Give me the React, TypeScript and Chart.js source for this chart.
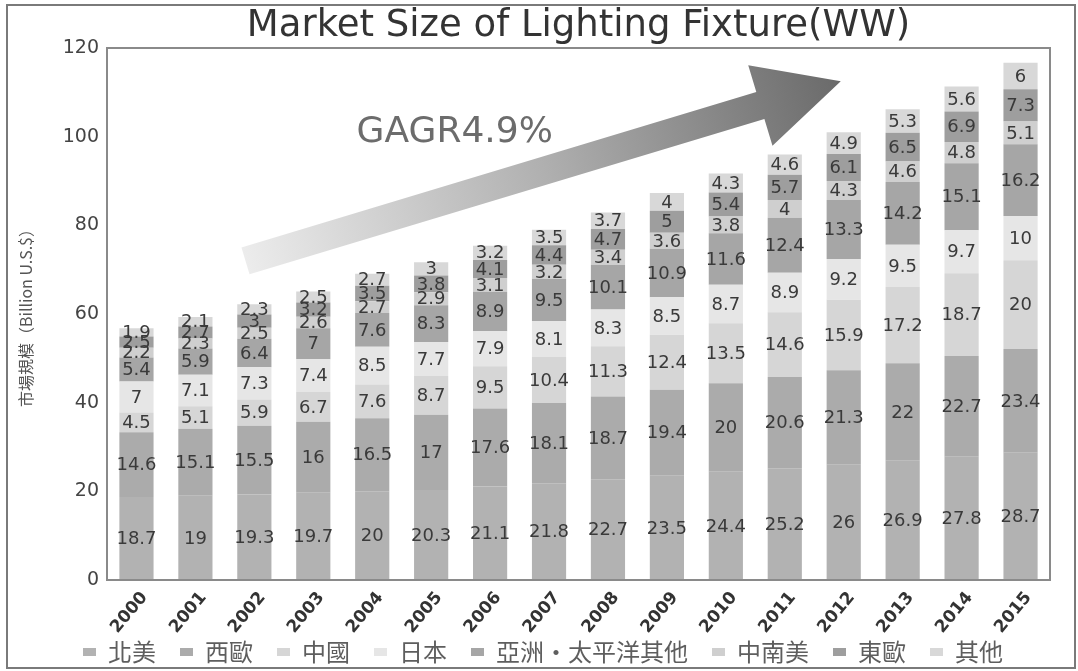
import React, { useEffect, useRef } from "react";
import { Chart, registerables } from "chart.js";

Chart.register(...registerables);

const years = ["2000","2001","2002","2003","2004","2005","2006","2007","2008","2009","2010","2011","2012","2013","2014","2015"];
const seriesNames = ["北美", "西歐", "中國", "日本", "亞洲・太平洋其他", "中南美", "東歐", "其他"];
const northAmerica = [18.7,19,19.3,19.7,20,20.3,21.1,21.8,22.7,23.5,24.4,25.2,26,26.9,27.8,28.7];
const westernEurope = [14.6,15.1,15.5,16,16.5,17,17.6,18.1,18.7,19.4,20,20.6,21.3,22,22.7,23.4];
const china = [4.5,5.1,5.9,6.7,7.6,8.7,9.5,10.4,11.3,12.4,13.5,14.6,15.9,17.2,18.7,20];
const japan = [7,7.1,7.3,7.4,8.5,7.7,7.9,8.1,8.3,8.5,8.7,8.9,9.2,9.5,9.7,10];
const otherAsiaPacific = [5.4,5.9,6.4,7,7.6,8.3,8.9,9.5,10.1,10.9,11.6,12.4,13.3,14.2,15.1,16.2];
const latinAmerica = [2.2,2.3,2.5,2.6,2.7,2.9,3.1,3.2,3.4,3.6,3.8,4,4.3,4.6,4.8,5.1];
const easternEurope = [2.5,2.7,3,3.2,3.5,3.8,4.1,4.4,4.7,5,5.4,5.7,6.1,6.5,6.9,7.3];
const others = [1.9,2.1,2.3,2.5,2.7,3,3.2,3.5,3.7,4,4.3,4.6,4.9,5.3,5.6,6];
const seriesColors = ["#b2b2b2", "#ababab", "#d6d6d6", "#e6e6e6", "#a6a6a6", "#cfcfcf", "#9e9e9e", "#d8d8d8"];
const yTicks = [0, 20, 40, 60, 80, 100, 120];
const titleText = "Market Size of Lighting Fixture(WW)";
const yTitle = "市場規模（Billion U.S.$）";
const growthLabel = "GAGR4.9%";
const arrowFrom = [1.85, 72];
const arrowTo = [11.95, 112.5];
const growthLabelAt = [5.4, 101];

const allSeries = [northAmerica, westernEurope, china, japan, otherAsiaPacific, latinAmerica, easternEurope, others];

const valueLabels = {
  id: "valueLabels",
  afterDatasetsDraw(chart: any) {
    const ctx = chart.ctx;
    ctx.save();
    ctx.font = "18px 'DejaVu Sans'";
    ctx.fillStyle = "#3a3a3a";
    ctx.textAlign = "center";
    ctx.textBaseline = "middle";
    chart.data.datasets.forEach((ds: any, i: number) => {
      const meta = chart.getDatasetMeta(i);
      meta.data.forEach((el: any, j: number) => {
        const p = el.getProps(["x", "y", "base"], true);
        ctx.fillText(String(ds.data[j]), p.x, (p.y + p.base) / 2 + 1);
      });
    });
    ctx.restore();
  },
};

const decorations = {
  id: "decorations",
  beforeDatasetsDraw(chart: any) {
    const ctx = chart.ctx;
    const xs = chart.scales.x;
    const ys = chart.scales.y;
    const x0 = xs.getPixelForValue(arrowFrom[0]);
    const y0 = ys.getPixelForValue(arrowFrom[1]);
    const x1 = xs.getPixelForValue(arrowTo[0]);
    const y1 = ys.getPixelForValue(arrowTo[1]);
    const dx = x1 - x0, dy = y1 - y0;
    const len = Math.hypot(dx, dy);
    const ux = dx / len, uy = dy / len;
    const nx = -uy, ny = ux;
    const hw = 14, headL = 84, headW = 42;
    const bx = x1 - ux * headL, by = y1 - uy * headL;
    ctx.save();
    const g = ctx.createLinearGradient(x0, y0, x1, y1);
    g.addColorStop(0, "#ececec");
    g.addColorStop(0.5, "#b0b0b0");
    g.addColorStop(1, "#6a6a6a");
    ctx.fillStyle = g;
    ctx.beginPath();
    ctx.moveTo(x0 + nx * hw, y0 + ny * hw);
    ctx.lineTo(bx + nx * hw, by + ny * hw);
    ctx.lineTo(bx + nx * headW, by + ny * headW);
    ctx.lineTo(x1, y1);
    ctx.lineTo(bx - nx * headW, by - ny * headW);
    ctx.lineTo(bx - nx * hw, by - ny * hw);
    ctx.lineTo(x0 - nx * hw, y0 - ny * hw);
    ctx.closePath();
    ctx.fill();
    ctx.font = "36px 'DejaVu Sans'";
    ctx.fillStyle = "#6c6c6c";
    ctx.textAlign = "center";
    ctx.textBaseline = "middle";
    ctx.fillText(growthLabel, xs.getPixelForValue(growthLabelAt[0]), ys.getPixelForValue(growthLabelAt[1]));
    ctx.restore();
  },
  afterDraw(chart: any) {
    const ctx = chart.ctx;
    const a = chart.chartArea;
    ctx.save();
    ctx.strokeStyle = "#8a8a8a";
    ctx.lineWidth = 2;
    ctx.strokeRect(a.left, a.top, a.right - a.left, a.bottom - a.top);
    ctx.strokeStyle = "#7a7a7a";
    ctx.strokeRect(7, 5, 1068, 663);
    ctx.restore();
  },
};

export default function App() {
  const ref = useRef<HTMLCanvasElement>(null);
  useEffect(() => {
    const chart = new Chart(ref.current as HTMLCanvasElement, {
      type: "bar",
      data: {
        labels: years,
        datasets: allSeries.map((d, i) => ({
          label: seriesNames[i],
          data: d,
          backgroundColor: seriesColors[i],
          borderWidth: 0,
          barPercentage: 0.58,
          categoryPercentage: 1,
        })),
      },
      options: {
        responsive: false,
        animation: false,
        layout: { padding: { left: 8, right: 0, top: 5, bottom: -3 } },
        plugins: {
          tooltip: { enabled: false },
          title: {
            display: true,
            text: titleText,
            fullSize: false,
            color: "#333",
            font: { family: "'DejaVu Sans'", size: 37, weight: "normal", lineHeight: 1.0 },
            padding: { top: 3, bottom: 3 },
          },
          legend: {
            position: "bottom",
            labels: {
              color: "#5e5e5e",
              font: { family: "'Noto Sans CJK TC'", size: 24 },
              boxWidth: 13,
              boxHeight: 8,
              padding: 24,
            },
          },
        },
        scales: {
          x: {
            stacked: true,
            grid: { display: false, drawTicks: false },
            border: { display: false },
            ticks: {
              color: "#333",
              font: { family: "'DejaVu Sans'", size: 17, weight: "bold" },
              minRotation: 50,
              maxRotation: 50,
              padding: 8,
              labelOffset: 8,
            },
            afterFit: (s: any) => {
              s.height = 36;
              s._computeLabelArea = () => undefined;
            },
          },
          y: {
            stacked: true,
            min: 0,
            max: 120,
            grid: { display: false, drawTicks: false },
            border: { display: false },
            afterBuildTicks: (s: any) => { s.ticks = yTicks.map((v) => ({ value: v })); },
            ticks: {
              color: "#444",
              font: { family: "'DejaVu Sans'", size: 19 },
              padding: 8,
            },
            title: {
              display: true,
              text: yTitle,
              color: "#555",
              font: { family: "'Noto Sans CJK TC'", size: 16 },
              padding: { top: 8, bottom: 0 },
            },
            afterFit: (s: any) => { s.width = 99; },
          },
          yPad: {
            position: "right",
            display: true,
            grid: { display: false, drawTicks: false },
            border: { display: false },
            ticks: { display: false },
            afterFit: (s: any) => { s.width = 28; },
          },
        },
      },
      plugins: [valueLabels, decorations],
    });
    return () => chart.destroy();
  }, []);
  return (
    <div style={{ position: "absolute", left: 0, top: 0, width: 1078, height: 671, background: "#fff" }}>
      <canvas ref={ref} width={1078} height={671} style={{ display: "block" }} />
    </div>
  );
}
